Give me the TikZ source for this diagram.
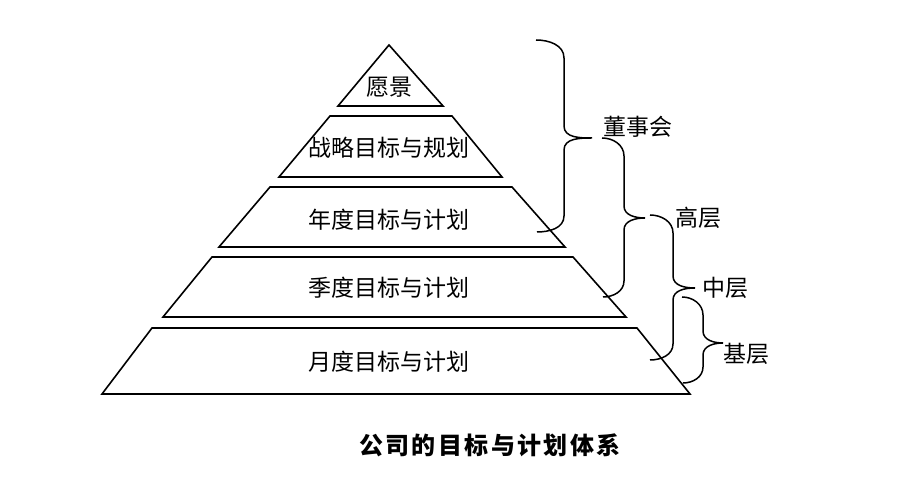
\documentclass[tikz,border=0pt]{standalone}
\usepackage{fontspec}
\usepackage{tikz}
\usetikzlibrary{positioning,calc}
\newfontfamily\cjk{Noto Sans CJK SC}
\newfontfamily\cjktitle[LetterSpace=10]{Noto Sans CJK SC}

\tikzset{
  layer/.style={draw, line width=1.6pt, line join=miter},
  lvl/.style={font=\cjk\fontsize{23}{23}\selectfont, inner sep=0pt},
  bracestroke/.style={line width=1.5pt},
}

% #1 top end, #2 bottom end, #3 tip, #4 depth of one arm
\newcommand{\levelbrace}[4]{%
  \draw[bracestroke] (#1) to[out=0,in=90] ($(#3 |- #1)+(-#4,-18)$)
    -- ($(#3)+(-#4,12)$) to[out=-90,in=180] (#3)
    to[out=180,in=90] ($(#3)+(-#4,-12)$)
    -- ($(#3 |- #2)+(-#4,16)$) to[out=-90,in=0] (#2);
}

\begin{document}
\begin{tikzpicture}[x=1pt,y=1pt]
                \useasboundingbox (0,0) rectangle (908,500);
                % pyramid
                \draw[layer] (389,455) -- (443,394) -- (338,394) -- cycle;
                \draw[layer] (330,384) -- (452,384) -- (502,323) -- (279,323) -- cycle;
                \draw[layer] (270,313) -- (512,313) -- (565,253) -- (219,253) -- cycle;
                \draw[layer] (212,243) -- (573,243) -- (626,183) -- (163,183) -- cycle;
                \draw[layer] (152,172) -- (637,172) -- (690,106) -- (102,106) -- cycle;
                \node[lvl] (vision) at (389,413) {愿景};
                \node[lvl] (strategy) at (389,352) {战略目标与规划};
                \node[lvl] (annual) at (389,280) {年度目标与计划};
                \node[lvl] (quarter) at (389,212) {季度目标与计划};
                \node[lvl] (monthly) at (389,138) {月度目标与计划};
                % braces
                \coordinate (b1top) at (536,460);
                \coordinate (b1tip) at (592,362);
                \coordinate (b1bot) at (537,268);
                \coordinate (b2top) at (602,362);
                \coordinate (b2tip) at (645,282);
                \coordinate (b2bot) at (603,203);
                \coordinate (b3top) at (650,285);
                \coordinate (b3tip) at (695,212);
                \coordinate (b3bot) at (650,140);
                \coordinate (b4top) at (682,203);
                \coordinate (b4tip) at (723,157);
                \coordinate (b4bot) at (683,117);
                \levelbrace{b1top}{b1bot}{b1tip}{28}
                \levelbrace{b2top}{b2bot}{b2tip}{21}
                \levelbrace{b3top}{b3bot}{b3tip}{22}
                \levelbrace{b4top}{b4bot}{b4tip}{20}
                \node[lvl, above right=0pt and 11pt of b1tip] (board) {董事会};
                \node[lvl, right=30pt of b2tip] (senior) {高层};
                \node[lvl, right=7pt of b3tip] (middle) {中层};
                \node[lvl, below right=0pt and 0pt of b4tip] (base) {基层};
                \node[font=\cjktitle\bfseries\fontsize{24}{24}\selectfont, inner sep=0pt] (title) at (490,55) {公司的目标与计划体系};
\end{tikzpicture}
\end{document}
